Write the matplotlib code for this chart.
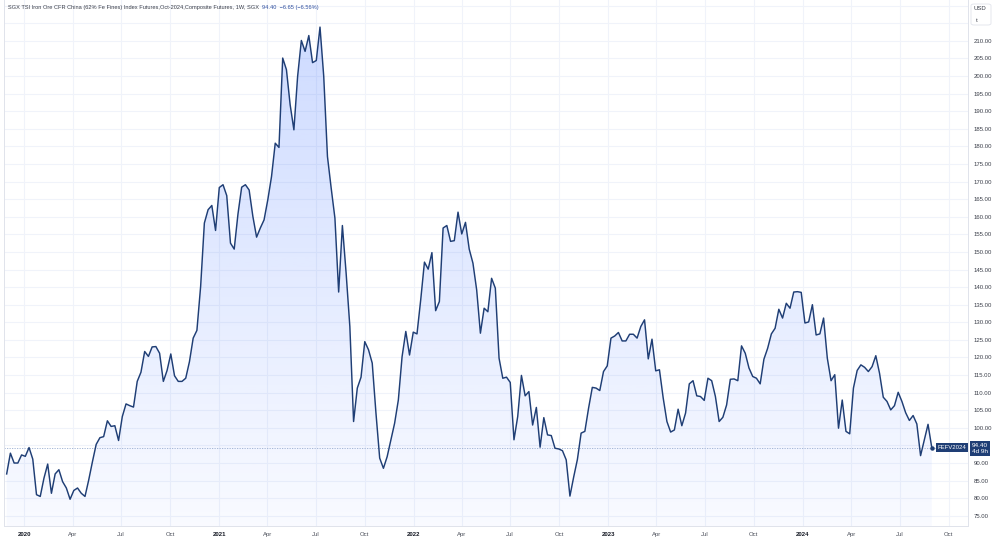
import numpy as np
import pandas as pd
import matplotlib
matplotlib.use("Agg")
import matplotlib.pyplot as plt
import matplotlib.dates as mdates
from matplotlib.patches import Polygon, FancyBboxPatch
from matplotlib.transforms import blended_transform_factory

# weekly closes, one value per weekly bar
start_week = "2019-11-29"
prices = [
    86.9, 92.8, 90.0, 90.0, 92.3, 91.9, 94.4, 91.1, 81.0, 80.5,
    85.7, 89.7, 81.4, 86.9, 88.1, 84.7, 82.9, 79.7, 82.2, 82.9,
    81.4, 80.5, 85.2, 90.4, 95.3, 97.2, 97.5, 102.0, 100.4, 100.6,
    96.4, 103.2, 106.8, 106.3, 105.9, 113.2, 115.8, 121.7, 120.3, 123.0,
    123.1, 121.2, 113.2, 116.3, 121.0, 114.8, 113.2, 113.2, 114.1, 118.8,
    125.5, 127.7, 140.2, 158.2, 162.0, 163.2, 156.1, 168.3, 169.1, 166.0,
    152.5, 150.8, 160.7, 168.4, 169.1, 167.6, 160.1, 154.2, 156.8, 159.1,
    164.8, 171.4, 180.9, 179.7, 205.1, 201.8, 191.8, 184.7, 199.9, 210.1,
    207.0, 211.5, 203.8, 204.4, 213.9, 199.9, 177.1, 168.1, 159.6, 138.6,
    157.5, 144.0, 128.8, 101.8, 111.3, 114.4, 124.5, 122.2, 118.4, 104.2,
    91.4, 88.5, 91.8, 96.6, 101.3, 107.9, 120.2, 127.4, 120.7, 127.2,
    126.7, 136.4, 147.1, 145.1, 149.8, 133.3, 135.9, 156.8, 157.5, 153.0,
    153.2, 161.3, 155.1, 158.4, 150.8, 146.8, 139.2, 126.9, 134.0, 133.0,
    142.5, 139.7, 119.8, 114.1, 114.4, 112.9, 96.6, 103.2, 114.9, 109.1,
    110.3, 100.8, 105.8, 94.5, 102.9, 98.0, 97.8, 94.2, 94.0, 93.5,
    90.9, 80.6, 86.0, 91.0, 98.5, 99.0, 105.6, 111.5, 111.3, 110.6,
    116.0, 117.6, 125.5, 126.1, 127.1, 124.7, 124.7, 126.6, 126.6, 125.5,
    128.8, 130.7, 119.6, 125.2, 116.2, 116.5, 108.5, 101.8, 98.8, 99.4,
    105.3, 100.6, 104.2, 112.5, 113.4, 109.1, 108.9, 107.8, 114.1, 113.4,
    108.9, 101.8, 103.0, 106.5, 113.8, 113.9, 113.4, 123.3, 121.2, 117.0,
    114.6, 114.1, 112.5, 119.5, 122.6, 126.7, 128.3, 133.7, 131.2, 135.4,
    134.0, 138.6, 138.7, 138.5, 129.8, 130.1, 135.0, 126.4, 126.7, 131.2,
    119.8, 113.4, 115.1, 99.9, 107.9, 99.0, 98.3, 111.3, 116.3, 117.9,
    117.2, 116.0, 117.4, 120.5, 115.5, 108.7, 107.5, 105.1, 106.3, 110.1,
    107.5, 104.3, 102.1, 103.5, 101.1, 92.1, 96.6, 101.0, 94.4,
]

title = "SGX TSI Iron Ore CFR China (62% Fe Fines) Index Futures,Oct-2024,Composite Futures, 1W, SGX"
last_price = 94.40
quote = "94.40  \u22126.65 (\u22126.56%)"
ticker = "FEFV2024"
countdown = "4d 9h"
currency = "USD"
unit = "t"
year_labels = [2020, 2021, 2022, 2023, 2024]
month_labels = {4: "Apr", 7: "Jul", 10: "Oct"}
price_ticks = list(range(75, 225, 5))

line_color = "#1f3e75"
grid_color = "#f0f3fa"

plt.rcParams["font.family"] = ["Liberation Sans", "DejaVu Sans"]

dates = pd.date_range(start_week, periods=len(prices), freq="7D")
xnum = mdates.date2num(dates)

fig = plt.figure(figsize=(10, 5.42), dpi=100)
fig.patch.set_facecolor("white")
ax = fig.add_axes([0.004, 16 / 542, 0.964, 526 / 542])

ylo, yhi = 72.1, 221.6
xlo = mdates.date2num(pd.Timestamp("2019-11-24"))
xhi = mdates.date2num(pd.Timestamp("2024-11-06"))

# gradient area under the line
grad = np.zeros((256, 1, 4))
grad[:, :, 0] = 41 / 255
grad[:, :, 1] = 98 / 255
grad[:, :, 2] = 255 / 255
grad[:, 0, 3] = np.linspace(0.24, 0.03, 256)
verts = [(xnum[0], ylo)] + list(zip(xnum, prices)) + [(xnum[-1], ylo)]
clip = Polygon(verts, closed=True, facecolor="none", edgecolor="none")
ax.add_patch(clip)
im = ax.imshow(grad, extent=[xlo, xhi, ylo, yhi], aspect="auto",
               origin="upper", zorder=1, interpolation="bilinear")
im.set_clip_path(clip)

ax.plot(dates, prices, color=line_color, lw=1.05, zorder=3)
ax.plot(dates[-1], prices[-1], "o", color=line_color, ms=2.2, zorder=4)
ax.axhline(last_price, color="#9aaed0", lw=0.6, ls=(0, (1.5, 1.5)), zorder=2)

ax.set_xlim(xlo, xhi)
ax.set_ylim(ylo, yhi)

# time axis
tick_dates = []
tick_text = []
for yr in year_labels:
    for m in [1, 4, 7, 10]:
        tick_dates.append(pd.Timestamp(yr, m, 1))
        tick_text.append(str(yr) if m == 1 else month_labels[m])
ax.set_xticks(mdates.date2num(tick_dates))
ax.set_xticklabels(tick_text)
for lbl, t in zip(ax.get_xticklabels(), tick_text):
    lbl.set_color("#131722" if t.isdigit() else "#4a4e59")
    if t.isdigit():
        lbl.set_fontweight("bold")

# price axis (95.00 sits under the last-price box, 215/220 under the unit box)
ax.yaxis.tick_right()
ax.set_yticks(price_ticks)
ax.set_yticklabels([f"{p:.2f}" if p <= 210 and p != 95 else ""
                    for p in price_ticks])
ax.tick_params(axis="y", length=0, pad=4, labelsize=4.3, labelcolor="#3a3e49")
ax.tick_params(axis="x", length=0, pad=4.2, labelsize=4.3)

ax.grid(True, color=grid_color, lw=0.8, zorder=0)
ax.set_axisbelow(True)
for side, sp in ax.spines.items():
    sp.set_color("#e0e3eb")
    sp.set_linewidth(0.7)
ax.spines["top"].set_visible(False)

# header
t1 = fig.text(8 / 1000, 1 - 8 / 542, title, fontsize=4.1, color="#3a3e49",
              va="center", ha="left")
ax.annotate(quote, xy=(1, 0.5), xycoords=t1, xytext=(2.5, 0),
            textcoords="offset points", fontsize=4.1, color="#2f4f9f",
            va="center", ha="left")

# currency box
box = FancyBboxPatch((971 / 1000, 1 - 25 / 542), 20 / 1000, 21 / 542,
                     boxstyle="round,pad=0,rounding_size=0.003",
                     transform=fig.transFigure, facecolor="white",
                     edgecolor="#e0e3eb", lw=0.6)
fig.patches.append(box)
fig.text(974 / 1000, 1 - 9 / 542, currency, fontsize=4.3, color="#3a3e49",
         va="center", ha="left")
fig.text(976 / 1000, 1 - 21 / 542, unit, fontsize=4.3, color="#3a3e49",
         va="center", ha="left")

# last price labels
trans = blended_transform_factory(ax.transAxes, ax.transData)
ax.text(0.9985, last_price, ticker, transform=trans, fontsize=4.3,
        color="white", ha="right", va="center", zorder=6,
        bbox=dict(boxstyle="square,pad=0.3", fc=line_color, ec="none"))
ax.text(1.004, last_price + 1.3, f"{last_price:.2f}\n{countdown}",
        transform=trans, fontsize=4.6, color="white", ha="left", va="top",
        zorder=6, linespacing=1.15, clip_on=False,
        bbox=dict(boxstyle="square,pad=0.35", fc=line_color, ec="none"))

fig.savefig("out.png", dpi=100)
